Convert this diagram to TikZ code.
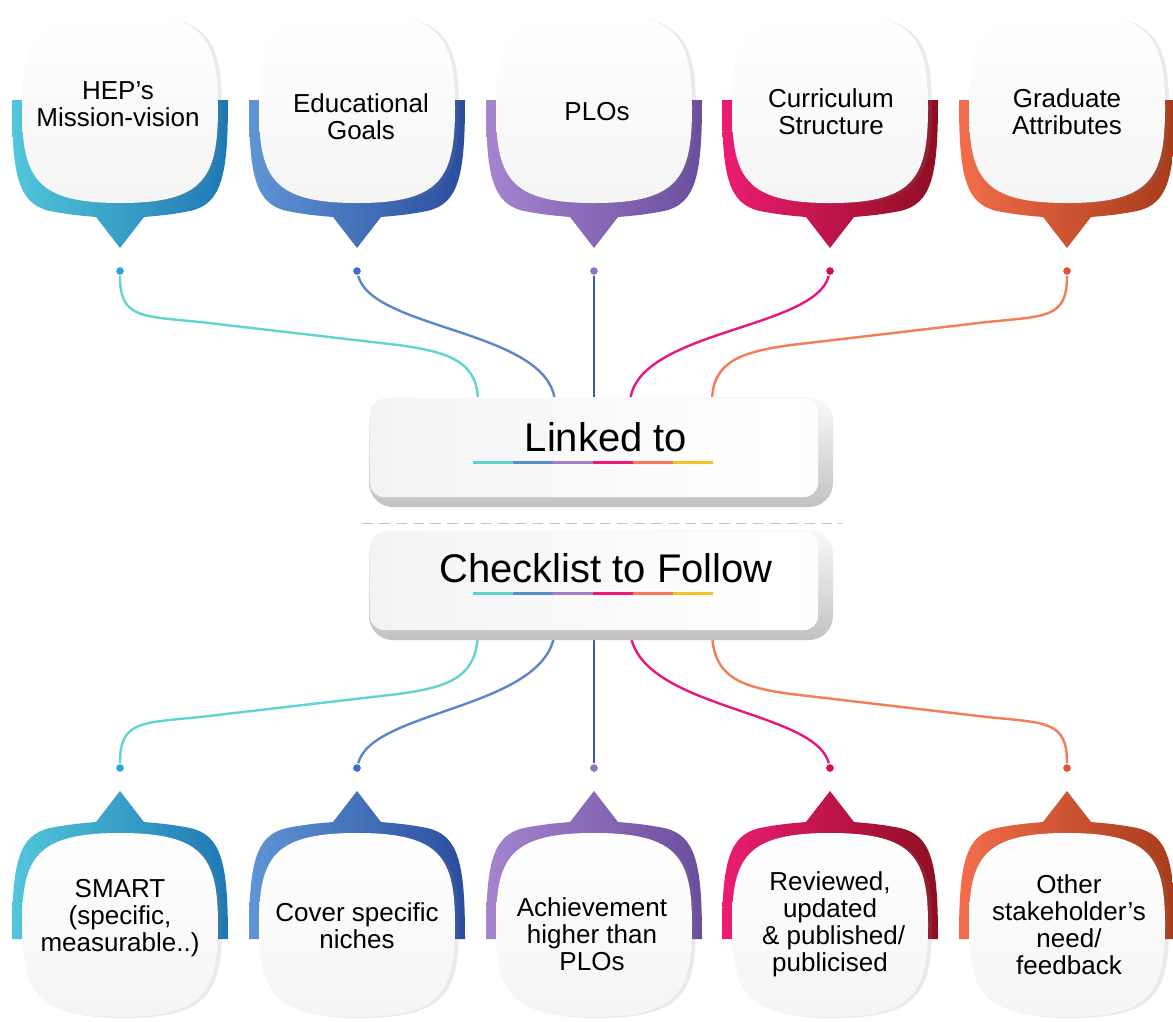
\documentclass[tikz,border=0pt]{standalone}
\usepackage{fontspec}
\setmainfont{Liberation Sans}
\usepackage{tikz}
\usetikzlibrary{shadows}

\definecolor{bandAl}{HTML}{52C6DB}\definecolor{bandAd}{HTML}{1F78B4}
\definecolor{bandBl}{HTML}{5F95D5}\definecolor{bandBd}{HTML}{2A4D9E}
\definecolor{bandCl}{HTML}{A585CE}\definecolor{bandCd}{HTML}{6A4D9E}
\definecolor{bandDl}{HTML}{EC1C74}\definecolor{bandDd}{HTML}{8E0E20}
\definecolor{bandEl}{HTML}{F36D4B}\definecolor{bandEd}{HTML}{A63B1B}
\definecolor{dotA}{HTML}{2EA4DC}\definecolor{dotB}{HTML}{3F6ED0}
\definecolor{dotC}{HTML}{9470C6}\definecolor{dotD}{HTML}{D40F40}
\definecolor{dotE}{HTML}{E05530}
\definecolor{lineA}{HTML}{62D4D2}\definecolor{lineB}{HTML}{5C87C6}
\definecolor{lineC}{HTML}{3E5AA8}\definecolor{lineD}{HTML}{E8167D}
\definecolor{lineE}{HTML}{F47C56}
\definecolor{ulA}{HTML}{5ED3D2}\definecolor{ulB}{HTML}{5B8CCB}
\definecolor{ulC}{HTML}{A082C0}\definecolor{ulD}{HTML}{EC1878}
\definecolor{ulE}{HTML}{F47B56}\definecolor{ulF}{HTML}{F6C12F}
\pgfdeclarehorizontalshading{boxshade}{100bp}{color(0bp)=(black!15); color(22bp)=(black!5); color(70bp)=(white); color(100bp)=(black!2)}

\begin{document}
\begin{tikzpicture}[x=1pt,y=-1pt]
    \tikzset{
      cardtext/.style={align=center,font=\fontsize{26}{27}\selectfont,inner sep=0pt},
      bigtext/.style={font=\fontsize{40}{44}\selectfont,inner sep=0pt,anchor=base},
      whitebody/.style={top color=white,bottom color=black!4,drop shadow={shadow xshift=4pt,shadow yshift=-1pt,opacity=0.16}},
      dotnode/.style={circle,inner sep=0pt,minimum size=9pt,draw=white,line width=1pt},
      link/.style={line width=2.4pt},
      mainbox/.style={rectangle,rounded corners=14pt,minimum width=448pt,minimum height=98pt,shading=boxshade},
      backbox/.style={rectangle,rounded corners=24pt,minimum width=464pt,minimum height=110pt,top color=black!2,bottom color=black!24},
      sepline/.style={black!22,line width=1pt,dash pattern=on 11pt off 6pt}
    }
    \fill[white] (0,0) rectangle (1173,1021);
    \useasboundingbox (0,0) rectangle (1173,1021);

    \foreach \cx/\cl/\cd in {120/bandAl/bandAd,357/bandBl/bandBd,594/bandCl/bandCd,830/bandDl/bandDd,1067/bandEl/bandEd}{
      \path[left color=\cl,right color=\cd] (\cx-108,100) -- (\cx+108,100) .. controls (\cx+108,175) and (\cx+102,204) .. (\cx+70,211) .. controls (\cx+50,215) and (\cx+35,216) .. (\cx+24,217) -- (\cx,248) -- (\cx-24,217) .. controls (\cx-35,216) and (\cx-50,215) .. (\cx-70,211) .. controls (\cx-102,204) and (\cx-108,175) .. (\cx-108,100) -- cycle;
      \path[whitebody] (\cx-98,108) .. controls (\cx-98,38) and (\cx-84,13) .. (\cx,13) .. controls (\cx+84,13) and (\cx+98,38) .. (\cx+98,108) .. controls (\cx+98,178) and (\cx+84,203) .. (\cx,203) .. controls (\cx-84,203) and (\cx-98,178) .. (\cx-98,108) -- cycle;
      \path[left color=\cl,right color=\cd] (\cx-108,939) -- (\cx+108,939) .. controls (\cx+108,864) and (\cx+102,835) .. (\cx+70,828) .. controls (\cx+50,824) and (\cx+35,823) .. (\cx+24,822) -- (\cx,791) -- (\cx-24,822) .. controls (\cx-35,823) and (\cx-50,824) .. (\cx-70,828) .. controls (\cx-102,835) and (\cx-108,864) .. (\cx-108,939) -- cycle;
      \path[whitebody] (\cx-98,925) .. controls (\cx-98,858) and (\cx-84,833) .. (\cx,833) .. controls (\cx+84,833) and (\cx+98,858) .. (\cx+98,925) .. controls (\cx+98,992) and (\cx+84,1017) .. (\cx,1017) .. controls (\cx-84,1017) and (\cx-98,992) .. (\cx-98,925) -- cycle;
    }

    \node[cardtext] (hep) at (118,104) {HEP’s\\Mission-vision};
    \node[cardtext] (goals) at (361,117) {Educational\\Goals};
    \node[cardtext] (plos) at (597,112) {PLOs};
    \node[cardtext] (curriculum) at (831,112) {Curriculum\\Structure};
    \node[cardtext] (graduate) at (1067,112) {Graduate\\Attributes};

    \node[cardtext] (smart) at (120,918) {SMART\\(specific,\\measurable..)};
    \node[cardtext] (niches) at (357,926) {Cover specific\\niches};
    \node[cardtext] (achieve) at (592,934) {Achievement\\higher than\\PLOs};
    \node[cardtext] (reviewed) at (830,924) {Reviewed,\\updated\\\ \& published/\\publicised};
    \node[cardtext] (stakeholder) at (1069,925) {Other\\stakeholder’s\\need/\\feedback};

    \node[dotnode,fill=dotA] (ta) at (120,271) {};
    \node[dotnode,fill=dotB] (tb) at (357,271) {};
    \node[dotnode,fill=dotC] (tc) at (594,271) {};
    \node[dotnode,fill=dotD] (td) at (830,271) {};
    \node[dotnode,fill=dotE] (te) at (1067,271) {};
    \node[dotnode,fill=dotA] (ba) at (120,768) {};
    \node[dotnode,fill=dotB] (bb) at (357,768) {};
    \node[dotnode,fill=dotC] (bc) at (594,768) {};
    \node[dotnode,fill=dotD] (bd) at (830,768) {};
    \node[dotnode,fill=dotE] (be) at (1067,768) {};

    \coordinate (la) at (478,402);
    \coordinate (lb) at (555,402);
    \coordinate (lc) at (594,402);
    \coordinate (ld) at (630,402);
    \coordinate (le) at (712,402);
    \coordinate (ca) at (478,630);
    \coordinate (cb) at (555,630);
    \coordinate (cc) at (594,630);
    \coordinate (cd) at (630,630);
    \coordinate (ce) at (712,630);

    \draw[link,lineA] (ta) .. controls (120,318) and (140,316) .. (200,322) -- (398,345) .. controls (450,352) and (478,362) .. (la);
    \draw[link,lineB] (tb) .. controls (372,330) and (550,330) .. (lb);
    \draw[link,lineC] (tc) -- (lc);
    \draw[link,lineD] (td) .. controls (815,330) and (635,330) .. (ld);
    \draw[link,lineE] (te) .. controls (1067,318) and (1047,316) .. (987,322) -- (791,345) .. controls (740,352) and (712,362) .. (le);

    \draw[link,lineA] (ca) .. controls (478,677) and (450,687) .. (398,694) -- (200,717) .. controls (140,723) and (120,721) .. (ba);
    \draw[link,lineB] (cb) .. controls (550,709) and (372,709) .. (bb);
    \draw[link,lineC] (cc) -- (bc);
    \draw[link,lineD] (cd) .. controls (635,709) and (815,709) .. (bd);
    \draw[link,lineE] (ce) .. controls (712,677) and (740,687) .. (791,694) -- (987,717) .. controls (1047,723) and (1067,721) .. (be);

    \node[backbox] (linkedback) at (601,452) {};
    \node[mainbox] (linked) at (594,448) {};
    \node[bigtext] (linkedtext) at (606,451) {Linked to};
    \node[backbox] (checkback) at (601,585) {};
    \node[mainbox] (checklist) at (594,581) {};
    \node[bigtext] (checktext) at (606,582) {Checklist to Follow};
    \draw[sepline] (362,523) -- (842,523);

    \foreach \k/\c in {0/ulA,1/ulB,2/ulC,3/ulD,4/ulE,5/ulF}{
      \draw[\c,line width=3pt] (473+\k*40,462) -- (513+\k*40,462);
      \draw[\c,line width=3pt] (473+\k*40,593) -- (513+\k*40,593);
    }
\end{tikzpicture}
\end{document}
